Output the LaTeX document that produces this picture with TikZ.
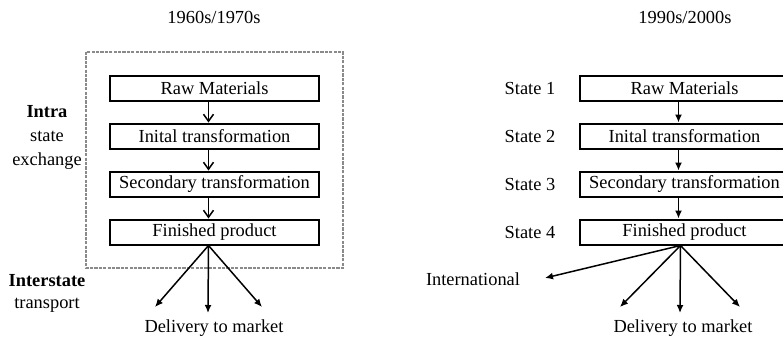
\documentclass[tikz,border=0pt]{standalone}
\usepackage{fontspec}
\setmainfont{Liberation Serif}
\usepackage{xcolor}
\definecolor{framegray}{HTML}{8A8A8A}
\usepackage{tikz}
\usetikzlibrary{arrows.meta, positioning, calc}

\tikzset{
  stagebox/.style={draw, line width=1pt, minimum width=104.5pt, minimum height=12.5pt, inner sep=0pt},
  stepline/.style={line width=0.75pt, -{Straight Barb[length=3.5pt,width=5pt]}},
  fanline/.style={line width=0.75pt, -{Latex[length=4pt,width=3.5pt]}},
  txt/.style={inner sep=0pt, align=center}
}

\begin{document}
\begin{tikzpicture}[x=0.5pt, y=-0.5pt, font=\fontsize{9.2}{12}\selectfont]
  \useasboundingbox (0,0) rectangle (783,338);
  \clip (0,0) rectangle (783,338);

  % Left panel: 1960s/1970s
  \node[txt] (title1) at (214,17) {1960s/1970s};
  \draw[framegray, line width=0.9pt, dash pattern=on 1.6pt off 0.6pt] (86,52) rectangle (343,268);

  \node[stagebox] (raw1) at (214.5,88) {Raw Materials};
  \node[stagebox] (init1) at (214.5,136) {Inital transformation};
  \node[stagebox] (sec1) at (214.5,184) {Secondary transformation};
  \node[stagebox] (fin1) at (214.5,232) {Finished product};

  \draw[stepline] ([xshift=-3pt]raw1.south) -- ([xshift=-3pt]init1.north);
  \draw[stepline] ([xshift=-3pt]init1.south) -- ([xshift=-3pt]sec1.north);
  \draw[stepline] ([xshift=-3pt]sec1.south) -- ([xshift=-3pt]fin1.north);

  \node[txt] (intra) at (47,137) {\textbf{Intra}\\state\\exchange};
  \node[txt, font=\fontsize{9.2}{11}\selectfont] (inter) at (47,293) {\textbf{Interstate}\\transport};

  % delivery fan
  \node[txt] (deliv1) at (214,328) {Delivery to market};
  \coordinate (d1l) at (155,307);
  \coordinate (d1m) at (208,313);
  \coordinate (d1r) at (262,307);
  \draw[fanline] ([xshift=-3pt]fin1.south) -- (d1l);
  \draw[fanline] ([xshift=-3pt]fin1.south) -- (d1m);
  \draw[fanline] ([xshift=-3pt]fin1.south) -- (d1r);

  % Right panel: 1990s/2000s
  \node[txt] (title2) at (685,17) {1990s/2000s};

  \node[stagebox] (raw2) at (684.5,88) {Raw Materials};
  \node[stagebox] (init2) at (684.5,136) {Inital transformation};
  \node[stagebox] (sec2) at (684.5,184) {Secondary transformation};
  \node[stagebox] (fin2) at (684.5,232) {Finished product};

  \draw[fanline] ([xshift=-3pt]raw2.south) -- ([xshift=-3pt]init2.north);
  \draw[fanline] ([xshift=-3pt]init2.south) -- ([xshift=-3pt]sec2.north);
  \draw[fanline] ([xshift=-3pt]sec2.south) -- ([xshift=-3pt]fin2.north);

  \node[txt] (st1) at (530,88) {State 1};
  \node[txt] (st2) at (530,136) {State 2};
  \node[txt] (st3) at (530,184) {State 3};
  \node[txt] (st4) at (530,232) {State 4};

  \node[txt] (intl) at (473,279) {International};
  \node[txt] (deliv2) at (683,328) {Delivery to market};
  \coordinate (intend) at (545,278);
  \coordinate (d2l) at (620,307);
  \coordinate (d2m) at (680,313);
  \coordinate (d2r) at (740,307);
  \draw[fanline] ([xshift=-2pt]fin2.south) -- (intend);
  \draw[fanline] ([xshift=-2pt]fin2.south) -- (d2l);
  \draw[fanline] ([xshift=-2pt]fin2.south) -- (d2m);
  \draw[fanline] ([xshift=-2pt]fin2.south) -- (d2r);
\end{tikzpicture}
\end{document}
